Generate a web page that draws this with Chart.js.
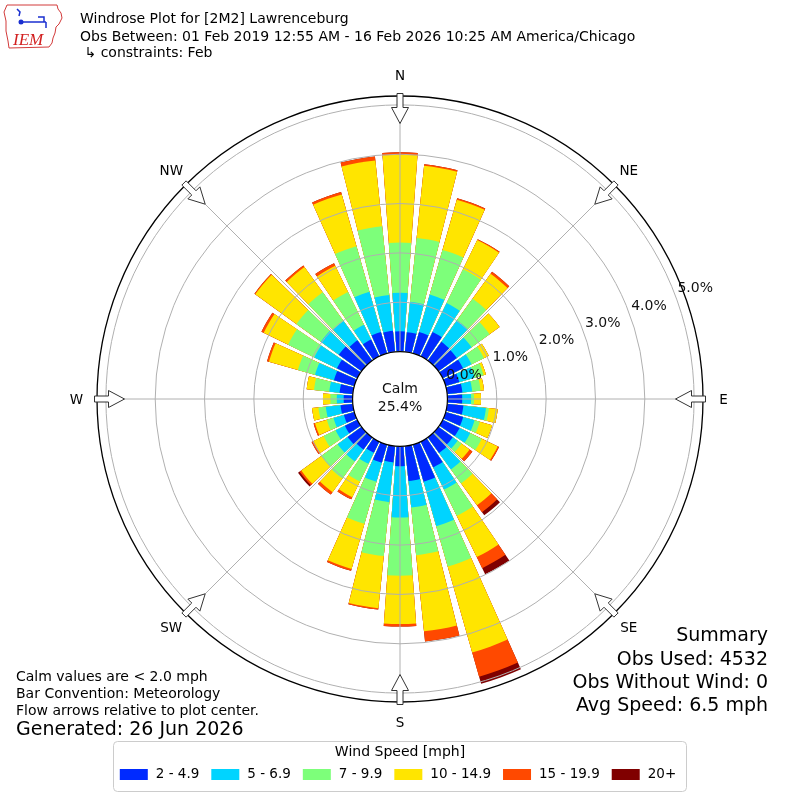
<!DOCTYPE html>
<html><head><meta charset="utf-8">
<script src="https://cdn.jsdelivr.net/npm/chart.js@4.4.1/dist/chart.umd.min.js"></script>
<style>html,body{margin:0;padding:0;background:#fff;}canvas{display:block;}</style>
</head><body>
<canvas id="c" width="800" height="800" style="width:800px;height:800px"></canvas>
<script>
// ---- data (percent of observations) ----
const directions = [0,10,20,30,40,50,60,70,80,90,100,110,120,130,140,150,160,170,180,190,200,210,220,230,240,250,260,270,280,290,300,310,320,330,340,350];
const speedBins = ['2 - 4.9','5 - 6.9','7 - 9.9','10 - 14.9','15 - 19.9','20+'];
const binColors = ['#002aff','#00d4ff','#7dff7a','#ffe500','#ff4900','#800000'];
const bin2to5   = [0.41,0.40,0.45,0.55,0.47,0.46,0.46,0.29,0.31,0.30,0.33,0.37,0.38,0.36,0.39,0.58,0.78,0.71,0.40,0.33,0.38,0.25,0.30,0.35,0.28,0.22,0.25,0.18,0.27,0.43,0.46,0.57,0.51,0.38,0.45,0.43];
const bin5to7   = [0.78,0.62,0.79,0.65,0.54,0.37,0.19,0.32,0.20,0.18,0.46,0.24,0.24,0.12,0.41,0.50,0.94,0.54,1.04,0.81,0.40,0.25,0.30,0.25,0.21,0.22,0.30,0.14,0.21,0.40,0.51,0.45,0.48,0.33,0.85,0.73];
const bin7to10  = [1.02,1.30,0.94,0.76,0.54,0.45,0.28,0.19,0.17,0.06,0.06,0.11,0.26,0.10,0.35,0.59,0.85,0.97,1.18,1.10,0.89,0.40,0.43,0.41,0.27,0.14,0.15,0.13,0.31,0.36,0.59,0.61,0.72,0.74,0.96,1.40];
const bin10to15 = [1.78,1.47,1.06,0.66,0.62,0.25,0.11,0.05,0.07,0.14,0.18,0.26,0.36,0.20,0.55,0.93,1.81,1.55,0.98,1.06,0.95,0.35,0.34,0.50,0.23,0.25,0.13,0.15,0.15,0.61,0.55,1.03,0.63,0.59,1.09,1.34];
const bin15to20 = [0.05,0.03,0.03,0.02,0.05,0.00,0.00,0.00,0.00,0.00,0.00,0.00,0.03,0.07,0.17,0.25,0.51,0.21,0.05,0.03,0.04,0.05,0.06,0.04,0.04,0.03,0.00,0.00,0.00,0.04,0.05,0.02,0.04,0.06,0.05,0.08];
const bin20plus = [0.00,0.00,0.00,0.00,0.00,0.00,0.00,0.00,0.00,0.00,0.00,0.00,0.00,0.00,0.08,0.14,0.15,0.00,0.00,0.00,0.00,0.00,0.00,0.04,0.00,0.00,0.00,0.00,0.00,0.00,0.00,0.00,0.00,0.00,0.00,0.00];
const tickValues = [0,1,2,3,4,5];
const tickLabels = ['0.0%','1.0%','2.0%','3.0%','4.0%','5.0%'];
const compassDeg = [0,45,90,135,180,225,270,315];
const compassLabels = ['N','NE','E','SE','S','SW','W','NW'];
const calmPct = '25.4%';
const titleLines = ['Windrose Plot for [2M2] Lawrenceburg','Obs Between: 01 Feb 2019 12:55 AM - 16 Feb 2026 10:25 AM America/Chicago',' \u21B3 constraints: Feb'];
const noteLines = ['Calm values are < 2.0 mph','Bar Convention: Meteorology','Flow arrows relative to plot center.'];
const generatedText = 'Generated: 26 Jun 2026';
const summaryLines = ['Summary','Obs Used: 4532','Obs Without Wind: 0','Avg Speed: 6.5 mph'];
const legendTitle = 'Wind Speed [mph]';

// ---- build polar-area datasets (cumulative, with angular gaps) ----
const R_MIN = -0.9615, R_MAX = 5.18;
const BAR_DEG = 8.2, GAP_DEG = 10 - BAR_DEG;
const binSeries = [bin2to5, bin5to7, bin7to10, bin10to15, bin15to20, bin20plus];
const labels = [];
directions.forEach(d => { labels.push(d + '\u00B0'); labels.push(''); });
const datasets = speedBins.map((name, k) => {
  const data = [], bg = [];
  directions.forEach((d, i) => {
    let cum = 0;
    for (let j = 0; j <= k; j++) cum += binSeries[j][i];
    data.push(+cum.toFixed(3)); bg.push(binColors[k]);
    data.push(R_MIN); bg.push('rgba(0,0,0,0)');
  });
  return {label: name, data, backgroundColor: bg, borderWidth: 0,
          angle: (c) => (c.dataIndex % 2 === 0 ? BAR_DEG : GAP_DEG)};
});

const FONT = '"DejaVu Sans", "Noto Sans", sans-serif';
const DEG = Math.PI / 180;
function pt(cx, cy, u, w, deg) {
  const s = Math.sin(deg * DEG), c = Math.cos(deg * DEG);
  return [cx + u * s + w * c, cy - u * c + w * s];
}

const decorPlugin = {
  id: 'decor',
  afterDraw(chart) {
    const ctx = chart.ctx, s = chart.scales.r;
    const cx = s.xCenter, cy = s.yCenter;
    const R = s.getDistanceFromCenterForValue(R_MAX);
    const r0 = s.getDistanceFromCenterForValue(0);
    ctx.save();
    // angle lines
    ctx.strokeStyle = '#b0b0b0'; ctx.lineWidth = 1;
    compassDeg.forEach(d => {
      const a = pt(cx, cy, r0, 0, d), b = pt(cx, cy, R, 0, d);
      ctx.beginPath(); ctx.moveTo(a[0], a[1]); ctx.lineTo(b[0], b[1]); ctx.stroke();
    });
    // outer circle
    ctx.strokeStyle = '#000'; ctx.lineWidth = 1.3;
    ctx.beginPath(); ctx.arc(cx, cy, R, 0, Math.PI * 2); ctx.stroke();
    // calm circle
    ctx.fillStyle = '#fff'; ctx.strokeStyle = '#000'; ctx.lineWidth = 1.2;
    ctx.beginPath(); ctx.arc(cx, cy, r0, 0, Math.PI * 2); ctx.fill(); ctx.stroke();
    ctx.fillStyle = '#111'; ctx.textAlign = 'center'; ctx.textBaseline = 'middle';
    ctx.font = '14px ' + FONT;
    ctx.fillText('Calm', cx, cy - 10);
    ctx.fillText(calmPct, cx, cy + 8);
    // ring labels
    ctx.font = '14px ' + FONT;
    const la = 20.5 * DEG;
    tickValues.forEach((v, i) => {
      const r = s.getDistanceFromCenterForValue(v) + 21;
      ctx.fillText(tickLabels[i], cx + r * Math.cos(la), cy - r * Math.sin(la));
    });
    // arrows
    const tipR = R - 27.5, baseR = R - 11.5, tailR = R + 2.5;
    ctx.lineWidth = 1; ctx.strokeStyle = '#333'; ctx.fillStyle = '#fff';
    compassDeg.forEach(d => {
      const P = [[tipR,0],[baseR,8.5],[baseR,3],[tailR,3],[tailR,-3],[baseR,-3],[baseR,-8.5]].map(q => pt(cx, cy, q[0], q[1], d));
      ctx.beginPath(); ctx.moveTo(P[0][0], P[0][1]);
      for (let i = 1; i < P.length; i++) ctx.lineTo(P[i][0], P[i][1]);
      ctx.closePath(); ctx.fill(); ctx.stroke();
    });
    // compass labels
    ctx.fillStyle = '#000'; ctx.font = '13.5px ' + FONT;
    compassDeg.forEach((d, i) => {
      const p = pt(cx, cy, R + 20.5, 0, d);
      ctx.fillText(compassLabels[i], p[0], p[1] + 1);
    });
    // titles
    ctx.textAlign = 'left'; ctx.font = '14px ' + FONT;
    [19, 37, 53].forEach((y, i) => ctx.fillText(titleLines[i], 80, y));
    // notes
    ctx.font = '14px ' + FONT;
    [677, 694, 711].forEach((y, i) => ctx.fillText(noteLines[i], 16, y));
    ctx.font = '19px ' + FONT;
    ctx.fillText(generatedText, 16, 730);
    // summary
    ctx.textAlign = 'right'; ctx.font = '19px ' + FONT;
    [636, 660, 683, 706].forEach((y, i) => ctx.fillText(summaryLines[i], 768, y));
    // legend
    drawLegend(ctx);
    drawLogo(ctx);
    ctx.restore();
  }
};

function drawLegend(ctx) {
  ctx.save();
  const x0 = 113.5, y0 = 741.5, w = 573, h = 50, rr = 4;
  ctx.beginPath();
  ctx.moveTo(x0 + rr, y0); ctx.lineTo(x0 + w - rr, y0); ctx.quadraticCurveTo(x0 + w, y0, x0 + w, y0 + rr);
  ctx.lineTo(x0 + w, y0 + h - rr); ctx.quadraticCurveTo(x0 + w, y0 + h, x0 + w - rr, y0 + h);
  ctx.lineTo(x0 + rr, y0 + h); ctx.quadraticCurveTo(x0, y0 + h, x0, y0 + h - rr);
  ctx.lineTo(x0, y0 + rr); ctx.quadraticCurveTo(x0, y0, x0 + rr, y0); ctx.closePath();
  ctx.fillStyle = '#fff'; ctx.fill(); ctx.strokeStyle = '#cccccc'; ctx.lineWidth = 1; ctx.stroke();
  ctx.fillStyle = '#000'; ctx.font = '14px ' + FONT; ctx.textAlign = 'center'; ctx.textBaseline = 'middle';
  ctx.fillText(legendTitle, 400, 752);
  const boxW = 28, boxH = 11, gT = 8, gI = 12;
  ctx.font = '13.5px ' + FONT;
  const widths = speedBins.map(t => boxW + gT + ctx.measureText(t).width);
  const total = widths.reduce((a, b) => a + b, 0) + gI * (widths.length - 1);
  let x = 400 - total / 2 - 2;
  ctx.textAlign = 'left';
  speedBins.forEach((t, i) => {
    ctx.fillStyle = binColors[i]; ctx.fillRect(x, 769, boxW, boxH);
    ctx.fillStyle = '#000'; ctx.fillText(t, x + boxW + gT, 774.5);
    x += widths[i] + gI;
  });
  ctx.restore();
}

function drawLogo(ctx) {
  ctx.save();
  ctx.strokeStyle = '#d23a3a'; ctx.lineWidth = 1;
  const poly = [[7,5],[57,5],[58,9],[61,13],[62,18],[59,24],[56,27],[55,33],[53,38],[52,43],[49,47],[9,48],[8,41],[6,31],[6,21],[4,12]];
  ctx.beginPath(); ctx.moveTo(poly[0][0], poly[0][1]);
  poly.slice(1).forEach(p => ctx.lineTo(p[0], p[1])); ctx.closePath(); ctx.stroke();
  ctx.fillStyle = '#d22020'; ctx.font = 'italic 17px "Liberation Serif", serif';
  ctx.textAlign = 'left'; ctx.textBaseline = 'alphabetic';
  ctx.fillText('IEM', 13, 45);
  ctx.strokeStyle = '#1a2fd0'; ctx.fillStyle = '#1a2fd0'; ctx.lineWidth = 1.5;
  ctx.beginPath(); ctx.moveTo(21, 22); ctx.lineTo(46, 22); ctx.stroke();
  ctx.beginPath(); ctx.arc(21, 22, 2.5, 0, Math.PI * 2); ctx.fill();
  ctx.beginPath(); ctx.moveTo(38, 17); ctx.lineTo(44, 17); ctx.lineTo(44, 22); ctx.stroke();
  ctx.beginPath(); ctx.moveTo(46, 22); ctx.lineTo(46, 28); ctx.stroke();
  ctx.beginPath(); ctx.moveTo(17, 9); ctx.lineTo(20, 12); ctx.lineTo(19, 16); ctx.stroke();
  ctx.restore();
}

Chart.defaults.font.family = FONT;
new Chart(document.getElementById('c'), {
  type: 'polarArea',
  data: {labels, datasets},
  options: {
    responsive: false, animation: false, events: [],
    layout: {padding: {left: 97, right: 96, top: 96, bottom: 97}},
    plugins: {legend: {display: false}, tooltip: {enabled: false}},
    scales: {
      r: {
        min: R_MIN, max: R_MAX, startAngle: -BAR_DEG / 2,
        afterBuildTicks: (axis) => { axis.ticks = tickValues.map(v => ({value: v})); },
        ticks: {display: false, stepSize: 1},
        grid: {color: '#b0b0b0', lineWidth: 1, z: 1},
        angleLines: {display: false},
        pointLabels: {display: false}
      }
    }
  },
  plugins: [decorPlugin]
});
</script>
</body></html>
